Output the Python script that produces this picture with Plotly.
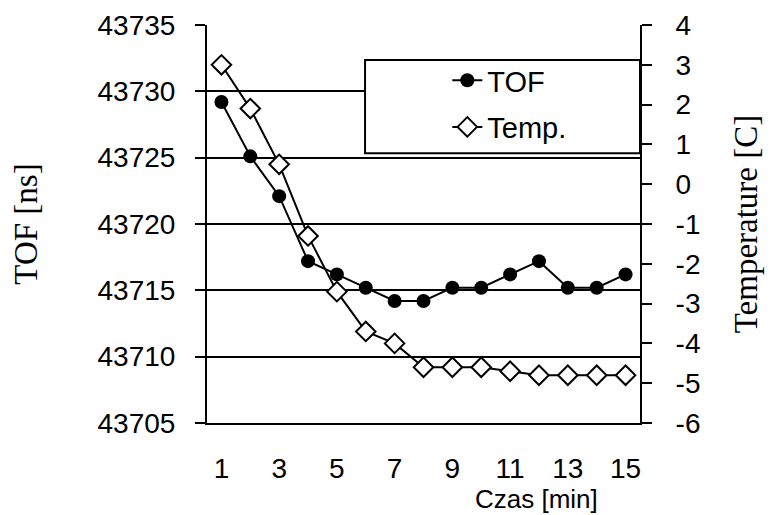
import plotly.graph_objects as go

# ---- data ----
minutes = [1, 2, 3, 4, 5, 6, 7, 8, 9, 10, 11, 12, 13, 14, 15]
tof_ns = [43729.2, 43725.1, 43722.1, 43717.2, 43716.2, 43715.2, 43714.2, 43714.2,
          43715.2, 43715.2, 43716.2, 43717.2, 43715.2, 43715.2, 43716.2]
temp_c = [3.0, 1.9, 0.5, -1.3, -2.7, -3.7, -4.0, -4.6,
          -4.6, -4.6, -4.7, -4.8, -4.8, -4.8, -4.8]
x_label_vals = [1, 3, 5, 7, 9, 11, 13, 15]
x_label_text = ["1", "3", "5", "7", "9", "11", "13", "15"]
tof_ticks = [43705, 43710, 43715, 43720, 43725, 43730, 43735]
tof_tick_text = ["43705", "43710", "43715", "43720", "43725", "43730", "43735"]
temp_ticks = [-6, -5, -4, -3, -2, -1, 0, 1, 2, 3, 4]
temp_tick_text = ["-6", "-5", "-4", "-3", "-2", "-1", "0", "1", "2", "3", "4"]

# derived
x_range = [minutes[0] - 0.5, minutes[-1] + 0.5]
x_bounds = [m - 0.5 for m in minutes] + [minutes[-1] + 0.5]
tof_range = [tof_ticks[0], tof_ticks[-1]]
temp_range = [temp_ticks[0], temp_ticks[-1]]

FONT = "Liberation Sans, Arial, sans-serif"
SERIF = "Liberation Serif, Times New Roman, serif"

fig = go.Figure()
fig.add_trace(go.Scatter(
    x=minutes, y=tof_ns, name="TOF", mode="lines+markers",
    line=dict(color="black", width=2),
    marker=dict(symbol="circle", size=14, color="black"),
    legendgroup="a", xaxis="x", yaxis="y"))
fig.add_trace(go.Scatter(
    x=minutes, y=temp_c, name="Temp.", mode="lines+markers",
    line=dict(color="black", width=2),
    marker=dict(symbol="diamond", size=15, color="white",
                line=dict(color="black", width=2)),
    legendgroup="b", xaxis="x", yaxis="y2"))

fig.update_layout(
    width=772, height=515,
    margin=dict(l=207, r=132, t=25, b=92),
    paper_bgcolor="white", plot_bgcolor="white",
    font=dict(family=FONT, size=28, color="black"),
    showlegend=True,
    legend=dict(x=0.555, y=0.925, xanchor="left", yanchor="top",
                bgcolor="rgba(0,0,0,0)", borderwidth=0,
                font=dict(family=FONT, size=29, color="black"),
                traceorder="grouped", tracegroupgap=6),
    shapes=[dict(type="rect", xref="paper", yref="paper",
                 x0=0.365, x1=1.0, y0=0.678, y1=0.912,
                 line=dict(color="black", width=2), fillcolor="white",
                 layer="above")],
    xaxis=dict(range=x_range, tickmode="array", tickvals=x_label_vals,
               ticktext=x_label_text, ticks="", showgrid=False, zeroline=False,
               showline=True, linecolor="black", linewidth=2, automargin=False,
               ticklabelstandoff=19),
    xaxis2=dict(overlaying="x", anchor="y", side="bottom", range=x_range,
                tickmode="array", tickvals=x_bounds, ticks="outside",
                ticklen=10, tickwidth=2, tickcolor="black", automargin=False,
                showticklabels=False, showgrid=False, zeroline=False,
                showline=False),
    xaxis3=dict(overlaying="x", anchor="y", side="bottom", range=x_range,
                tickmode="array", tickvals=x_bounds, ticks="inside",
                ticklen=9, tickwidth=2, tickcolor="black", automargin=False,
                showticklabels=False, showgrid=False, zeroline=False,
                showline=False),
    yaxis=dict(range=tof_range, tickmode="array", tickvals=tof_ticks,
               ticktext=tof_tick_text,
               ticks="outside", ticklen=10, tickwidth=2, tickcolor="black",
               showgrid=True, gridcolor="black", gridwidth=2, zeroline=False,
               showline=True, linecolor="black", linewidth=2, automargin=False,
               ticklabelstandoff=14,
               title=dict(text="TOF [ns]", font=dict(family=SERIF, size=33),
                          standoff=50)),
    yaxis3=dict(overlaying="y", anchor="x", side="left", range=tof_range,
                tickmode="array", tickvals=tof_ticks, ticks="inside",
                ticklen=9, tickwidth=2, tickcolor="black", automargin=False,
                showticklabels=False, showgrid=False, zeroline=False,
                showline=False),
    yaxis2=dict(overlaying="y", anchor="x", side="right", range=temp_range,
                tickmode="array", tickvals=temp_ticks, ticktext=temp_tick_text,
                ticks="outside", ticklen=10, tickwidth=2, tickcolor="black",
                showgrid=False, zeroline=False, automargin=False,
                showline=True, linecolor="black", linewidth=2,
                ticklabelstandoff=18,
                title=dict(text="Temperature [C]",
                           font=dict(family=SERIF, size=33), standoff=34)),
    yaxis4=dict(overlaying="y", anchor="x", side="right", range=temp_range,
                tickmode="array", tickvals=temp_ticks, ticks="inside",
                ticklen=9, tickwidth=2, tickcolor="black", automargin=False,
                showticklabels=False, showgrid=False, zeroline=False,
                showline=False),
    annotations=[dict(text="Czas [min]", xref="paper", yref="paper",
                      x=0.76, y=-0.19, xanchor="center", yanchor="middle",
                      showarrow=False, font=dict(family=FONT, size=26))],
)

fig.write_html("out.html",
               config={"displayModeBar": False},
               post_script="document.body.style.margin='0';"
                           "document.body.style.overflow='hidden';")
